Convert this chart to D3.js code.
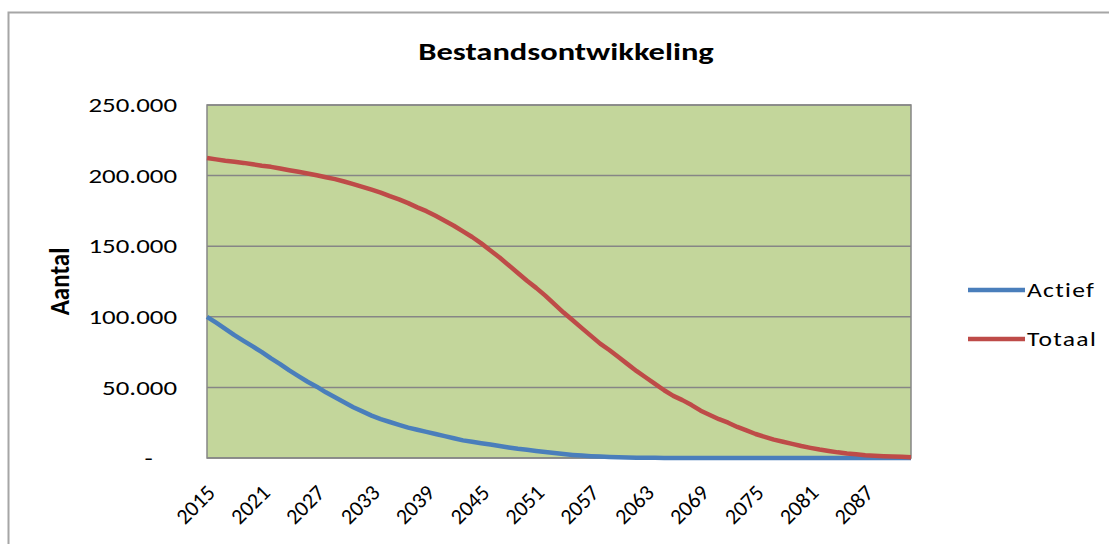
<!DOCTYPE html>
<html>
<head>
<meta charset="utf-8">
<script src="https://cdn.jsdelivr.net/npm/d3@7"></script>
<style>
  body { margin: 0; background: #fff; }
  svg { display: block; }
  text { font-family: Carlito, Lato, "Open Sans", sans-serif; fill: #000; }
</style>
</head>
<body>
<div id="chart"></div>
<script>
'use strict';

const years = d3.range(2015, 2093);
const tickYears = d3.range(2015, 2093, 6);
const yTicks = [0, 50000, 100000, 150000, 200000, 250000];

const actief = [
  100000, 95800, 91500, 87000, 83000, 79000, 75000, 70500, 66500, 62000,
  58000, 54000, 50500, 46500, 43000, 39500, 36000, 33000, 30000, 27500,
  25500, 23500, 21500, 20000, 18500, 17000, 15500, 14000, 12500, 11500,
  10500, 9500, 8500, 7500, 6500, 5800, 5000, 4200, 3500, 2800,
  2200, 1700, 1300, 1000, 700, 500, 350, 250, 150, 100,
  80, 60, 50, 40, 30, 20, 20, 10, 10, 10,
  0, 0, 0, 0, 0, 0, 0, 0, 0, 0,
  0, 0, 0, 0, 0, 0, 0, 0
];

const totaal = [
  212500, 211500, 210500, 209800, 209000, 208000, 207000, 206200, 205000, 203800,
  202700, 201500, 200200, 198800, 197500, 195800, 194000, 192000, 190000, 188000,
  185500, 183200, 180500, 177500, 174800, 171500, 168000, 164500, 160500, 156500,
  152000, 147000, 142000, 136500, 131000, 125500, 120500, 115000, 109000, 103000,
  97500, 92000, 86500, 81000, 76500, 71500, 66500, 61500, 57000, 52500,
  48000, 44000, 41000, 37500, 33500, 30500, 27500, 25000, 22000, 19500,
  17000, 15000, 13000, 11500, 10000, 8500, 7200, 6000, 5000, 4000,
  3200, 2600, 2000, 1600, 1300, 1000, 800, 600
];

const seriesNames = ['Actief', 'Totaal'];
const seriesColors = ['#4a7ebb', '#be4b48'];

const width = 1109;
const height = 544;
const margin = { top: 105, right: 198, bottom: 86, left: 207 };
const plotW = width - margin.left - margin.right;
const plotH = height - margin.top - margin.bottom;

// text in the original is drawn wide
const sx = 1.28;

const nl = d3.formatLocale({ decimal: ',', thousands: '.', grouping: [3], currency: ['€', ''] });
const fmt = nl.format(',');

const svg = d3.select('#chart')
  .append('svg')
  .attr('width', width)
  .attr('height', height);

// chart frame (runs off the right and bottom of the picture)
svg.append('rect')
  .attr('x', 8.5)
  .attr('y', 12.5)
  .attr('width', width + 20)
  .attr('height', height + 20)
  .attr('fill', 'none')
  .attr('stroke', '#a6a6a6')
  .attr('stroke-width', 2);

const x = d3.scaleLinear([years[0], years[years.length - 1]], [0, plotW]);
const y = d3.scaleLinear([0, 250000], [plotH, 0]);

const g = svg.append('g')
  .attr('transform', `translate(${margin.left},${margin.top})`);

g.append('rect')
  .attr('width', plotW)
  .attr('height', plotH)
  .attr('fill', '#c3d69b');

g.append('g')
  .selectAll('line')
  .data(yTicks)
  .join('line')
  .attr('x1', 0)
  .attr('x2', plotW)
  .attr('y1', (d) => y(d))
  .attr('y2', (d) => y(d))
  .attr('stroke', '#868686')
  .attr('stroke-width', 1.5);

g.append('rect')
  .attr('width', plotW)
  .attr('height', plotH)
  .attr('fill', 'none')
  .attr('stroke', '#868686')
  .attr('stroke-width', 1.5);

const yAxis = d3.axisLeft(y)
  .tickValues(yTicks)
  .tickSize(0)
  .tickFormat((d) => (d === 0 ? '-\u00a0\u00a0\u00a0\u00a0' : fmt(d)));

g.append('g')
  .call(yAxis)
  .call((a) => a.select('.domain').remove())
  .selectAll('text')
  .style('font-family', 'Carlito, Lato, sans-serif')
  .style('font-size', '21px')
  .attr('fill', '#000')
  .attr('x', 0)
  .attr('transform', `translate(-30,0) scale(${sx},1)`);

const xAxis = d3.axisBottom(x)
  .tickValues(tickYears)
  .tickSize(0)
  .tickFormat(d3.format('d'));

g.append('g')
  .attr('transform', `translate(0,${plotH})`)
  .call(xAxis)
  .call((a) => a.select('.domain').remove())
  .selectAll('text')
  .style('font-family', 'Carlito, Lato, sans-serif')
  .style('font-size', '22px')
  .attr('fill', '#000')
  .attr('text-anchor', 'end')
  .attr('dy', null)
  .attr('y', 0)
  .attr('transform', 'translate(9,36) rotate(-45)');

const line = d3.line()
  .x((d, i) => x(years[i]))
  .y((d) => y(d));

[actief, totaal].forEach((values, i) => {
  g.append('path')
    .datum(values)
    .attr('d', line)
    .attr('fill', 'none')
    .attr('stroke', seriesColors[i])
    .attr('stroke-width', 4.5)
    .attr('stroke-linejoin', 'round');
});

svg.append('text')
  .attr('transform', 'translate(566,60) scale(1.3,1)')
  .attr('text-anchor', 'middle')
  .style('font-size', '25px')
  .style('font-weight', 'bold')
  .text('Bestandsontwikkeling');

svg.append('text')
  .attr('transform', `translate(69,${margin.top + plotH / 2}) scale(1.1,1) rotate(-90)`)
  .attr('text-anchor', 'middle')
  .style('font-size', '25px')
  .style('font-weight', 'bold')
  .text('Aantal');

const legend = svg.append('g')
  .selectAll('g')
  .data(seriesNames)
  .join('g')
  .attr('transform', (d, i) => `translate(968,${290 + i * 49})`);

legend.append('line')
  .attr('x1', 0)
  .attr('x2', 57)
  .attr('stroke', (d, i) => seriesColors[i])
  .attr('stroke-width', 4.5);

legend.append('text')
  .attr('transform', `translate(59,7) scale(${sx},1)`)
  .style('font-size', '20px')
  .style('letter-spacing', '1px')
  .text((d) => d);
</script>
</body>
</html>
